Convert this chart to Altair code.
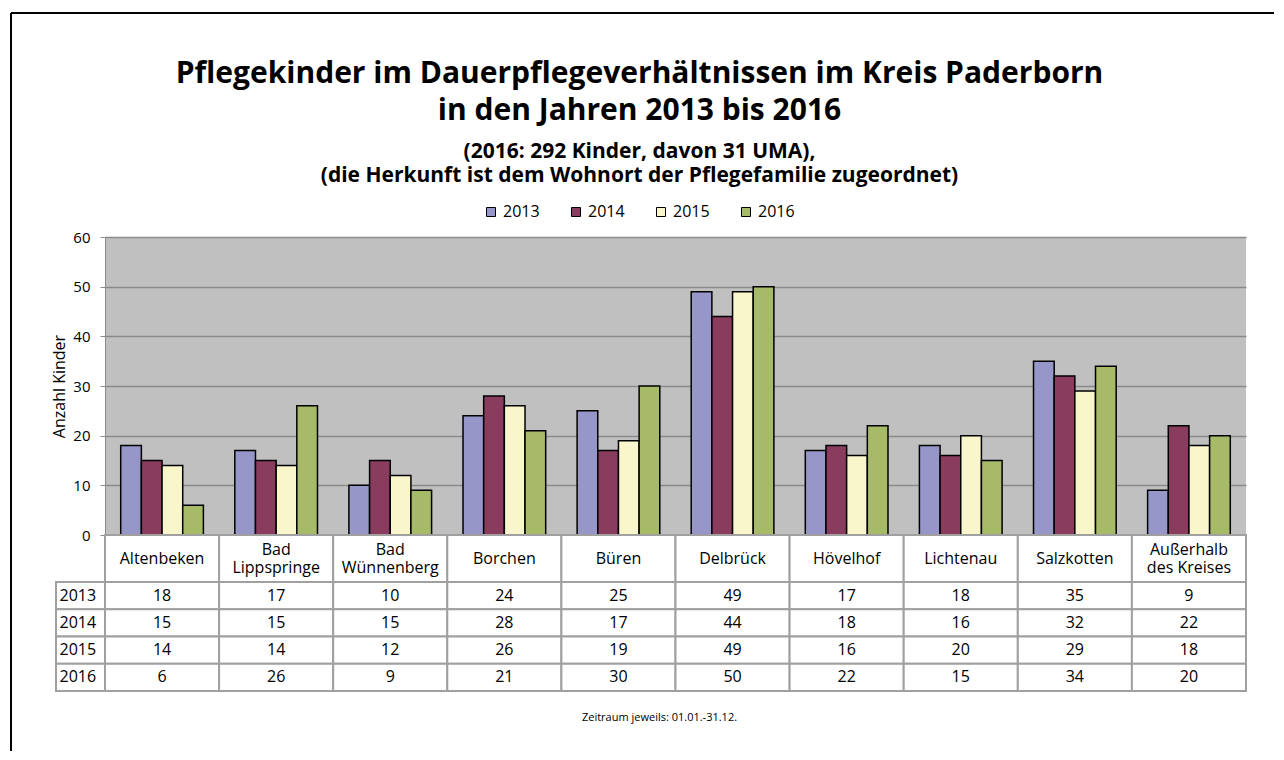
import altair as alt
import pandas as pd

orte = ["Altenbeken", "Bad\nLippspringe", "Bad\nWünnenberg", "Borchen", "Büren",
        "Delbrück", "Hövelhof", "Lichtenau", "Salzkotten", "Außerhalb\ndes Kreises"]
jahre = ["2013", "2014", "2015", "2016"]
w2013 = [18, 17, 10, 24, 25, 49, 17, 18, 35, 9]
w2014 = [15, 15, 15, 28, 17, 44, 18, 16, 32, 22]
w2015 = [14, 14, 12, 26, 19, 49, 16, 20, 29, 18]
w2016 = [6, 26, 9, 21, 30, 50, 22, 15, 34, 20]
farben = ["#9696c8", "#8a3c5e", "#faf6cc", "#a6ba68"]

werte = {"2013": w2013, "2014": w2014, "2015": w2015, "2016": w2016}
rows = []
for j in jahre:
    for o, v in zip(orte, werte[j]):
        rows.append({"ort": o, "jahr": j, "wert": v})
df = pd.DataFrame(rows)
kopf = pd.DataFrame({"ort": orte})
jahr_df = pd.DataFrame({"jahr": jahre})
eins = pd.DataFrame({"a": [0]})

FONT = "Open Sans"
GRID = "#8a8a8a"
TAB = "#a0a0a0"

x_ort = alt.X("ort:N", sort=orte, scale=alt.Scale(paddingInner=0, paddingOuter=0), axis=None)

bars = alt.Chart(df).mark_bar(stroke="black", strokeWidth=1.5).encode(
    x=x_ort,
    xOffset=alt.XOffset("jahr:N", sort=jahre, scale=alt.Scale(paddingInner=0, paddingOuter=0.76)),
    y=alt.Y("wert:Q", scale=alt.Scale(domain=[0, 60], nice=False),
            axis=alt.Axis(values=[0, 10, 20, 30, 40, 50, 60], title="Anzahl Kinder",
                          titleFont=FONT, titleFontSize=16, titleFontWeight="normal", titleColor="black",
                          titlePadding=5, labelFont=FONT, labelFontSize=15, labelColor="black",
                          labelPadding=10, tickColor=GRID, tickSize=5, domainColor=GRID,
                          gridColor=GRID, gridWidth=1.5)),
    color=alt.Color("jahr:N", sort=jahre, scale=alt.Scale(domain=jahre, range=farben),
                    legend=alt.Legend(title=None, orient="none", legendX=378, legendY=-33,
                                      direction="horizontal", columns=4, symbolType="square",
                                      symbolSize=81, symbolStrokeColor="black", symbolStrokeWidth=1,
                                      symbolOpacity=1, labelFont=FONT, labelFontSize=16,
                                      labelColor="black", labelOffset=4, columnPadding=28)),
).properties(
    width=1141, height=298,
    view=alt.ViewBackground(fill="#c0c0c0", stroke=None),
    title=alt.TitleParams(
        text=["Pflegekinder im Dauerpflegeverhältnissen im Kreis Paderborn",
              "in den Jahren 2013 bis 2016"],
        subtitle=["(2016: 292 Kinder, davon 31 UMA),",
                  "(die Herkunft ist dem Wohnort der Pflegefamilie zugeordnet)"],
        font=FONT, fontSize=30, fontWeight="bold", color="black", lineHeight=37,
        subtitleFont=FONT, subtitleFontSize=21, subtitleFontWeight="bold",
        subtitleColor="black", subtitleLineHeight=24, subtitlePadding=15,
        anchor="middle", frame="group", dx=-36, offset=44),
)

kopf_text = alt.Chart(kopf).mark_text(font=FONT, fontSize=16, baseline="middle", color="black",
                                      lineBreak="\n", lineHeight=18)

header = alt.layer(
    alt.Chart(kopf).mark_rect(fill="white", stroke=TAB, strokeWidth=2).encode(x=x_ort),
    kopf_text.transform_filter("indexof(datum.ort, '\\n') < 0").encode(x=x_ort, text="ort:N"),
    kopf_text.mark_text(font=FONT, fontSize=16, baseline="middle", color="black",
                        lineBreak="\n", lineHeight=18, dy=-9)
    .transform_filter("indexof(datum.ort, '\\n') >= 0").encode(x=x_ort, text="ort:N"),
    alt.Chart(eins).mark_rule(color="black", strokeWidth=2).encode(
        x=alt.value(-94), y=alt.value(-522), y2=alt.value(216)),
    alt.Chart(eins).mark_rule(color="black", strokeWidth=2).encode(
        x=alt.value(-94), x2=alt.value(1169), y=alt.value(-522)),
).properties(width=1141, height=47)

y_jahr = alt.Y("jahr:O", sort=jahre, scale=alt.Scale(paddingInner=0, paddingOuter=0),
               axis=alt.Axis(title=None, orient="left", labelAlign="left", labelPadding=46,
                             ticks=False, domain=False, labelFont=FONT, labelFontSize=16,
                             labelColor="black", labelBaseline="middle"))

tab = alt.layer(
    alt.Chart(df).mark_rect(fill="white", stroke=TAB, strokeWidth=2).encode(x=x_ort, y=y_jahr),
    alt.Chart(jahr_df).mark_rect(fill="white", stroke=TAB, strokeWidth=2).encode(
        x=alt.value(-49), x2=alt.value(0), y=y_jahr),
    alt.Chart(df).mark_text(font=FONT, fontSize=16, color="black").encode(
        x=x_ort, y=y_jahr, text="wert:Q"),
).properties(
    width=1141, height=109,
    title=alt.TitleParams(text="Zeitraum jeweils: 01.01.-31.12.", orient="bottom",
                          font=FONT, fontSize=11, fontWeight="normal", color="black",
                          anchor="middle", frame="group", dx=-16, offset=20),
)

chart = alt.vconcat(bars, header, tab, spacing=0, bounds="flush").properties(
    padding={"left": 1, "top": 3, "right": 0, "bottom": 0}
).configure_view(stroke=None).configure(font=FONT)

chart.save("out.html", embed_options={"renderer": "svg", "actions": False})
